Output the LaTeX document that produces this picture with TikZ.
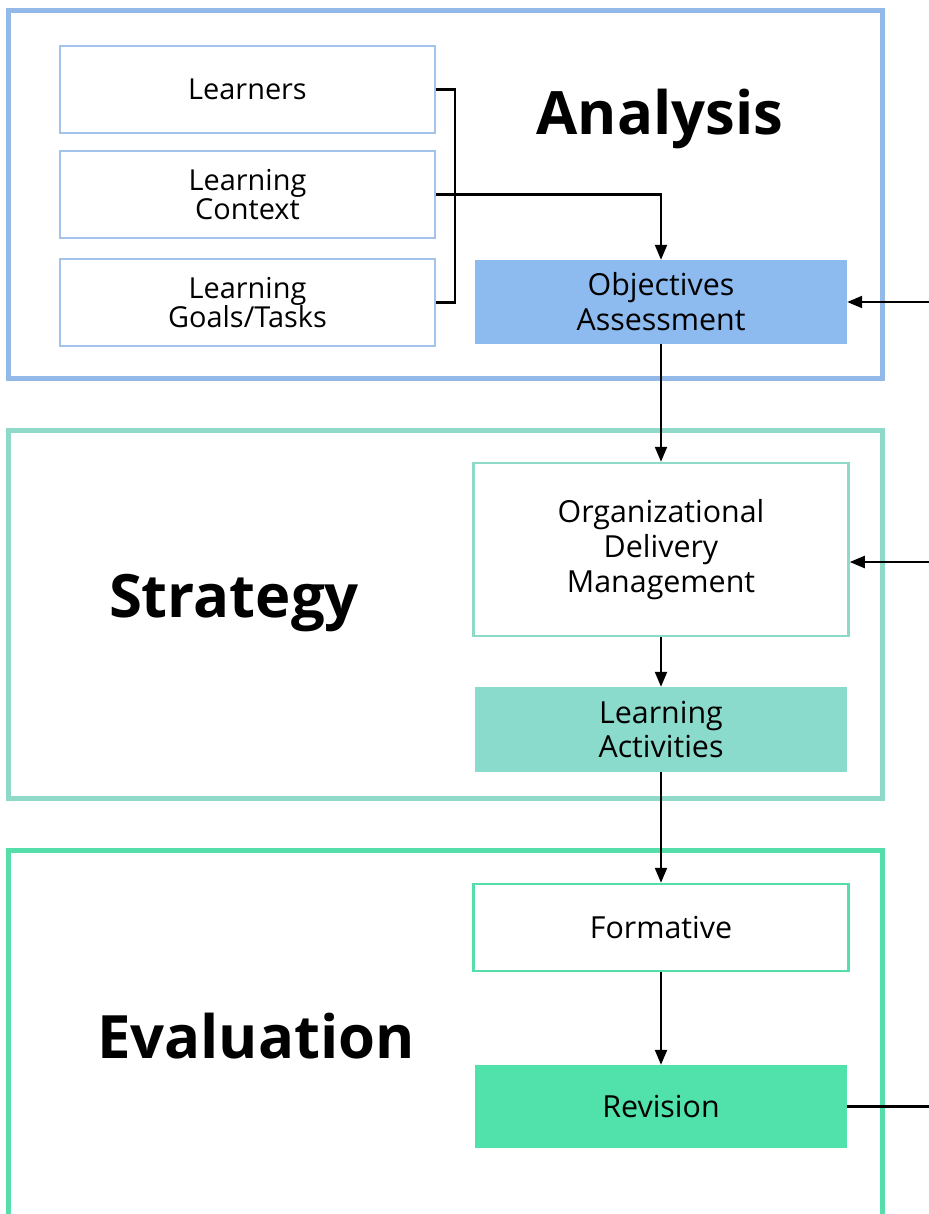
\documentclass[tikz,border=0pt]{standalone}
\usepackage{fontspec}
\setmainfont{Open Sans}
\usetikzlibrary{arrows.meta}
\definecolor{anaframe}{HTML}{93B9E8}
\definecolor{anabox}{HTML}{A3C3EC}
\definecolor{anafill}{HTML}{8DBAEF}
\definecolor{strframe}{HTML}{8FD9C9}
\definecolor{strfill}{HTML}{8ADBCB}
\definecolor{evaframe}{HTML}{55DEAA}
\definecolor{evafill}{HTML}{50E2AA}
\tikzset{
  frame/.style={draw=#1, line width=5bp, minimum width=873bp, inner sep=0pt},
  plainbox/.style={draw=#1, line width=2.5bp, fill=white, minimum width=375bp, minimum height=87bp, align=center, inner sep=0pt},
  fillbox/.style={fill=#1, minimum width=372bp, align=center, inner sep=0pt},
  lefttxt/.style={font=\fontsize{29}{30}\selectfont},
  righttxt/.style={font=\fontsize{30.5}{35}\selectfont},
  title/.style={font=\fontsize{60}{64}\selectfont\bfseries},
  conn/.style={line width=2.2bp, draw=black},
  arr/.style={conn, -{Triangle[length=15bp,width=12bp]}}
}
\begin{document}
\begin{tikzpicture}[x=1bp,y=-1bp]
\useasboundingbox (0,0) rectangle (929,1214);
\fill[white] (0,0) rectangle (929,1214);
% frames
\node[frame=anaframe, minimum height=368bp] (fa) at (445.5,194) {};
\node[frame=strframe, minimum height=368bp] (fs) at (445.5,614) {};
\node[frame=evaframe, minimum height=400bp] (fe) at (445.5,1050) {};
% titles
\node[title] (ta) at (660,119) {Analysis};
\node[title] (ts) at (234,603) {Strategy};
\node[title] (te) at (256,1036) {Evaluation};
% analysis boxes
\node[plainbox=anabox, lefttxt] (learners) at (247.5,89.5) {Learners};
\node[plainbox=anabox, lefttxt] (context) at (247.5,194.5) {Learning\\Context};
\node[plainbox=anabox, lefttxt] (goals) at (247.5,302.5) {Learning\\Goals/Tasks};
\node[fillbox=anafill, minimum height=84bp, righttxt] (obj) at (661,302) {Objectives\\Assessment};
% strategy boxes
\node[plainbox=strframe, minimum height=173bp, righttxt] (org) at (661,549.5) {Organizational\\Delivery\\Management};
\node[fillbox=strfill, minimum height=85bp, righttxt] (act) at (661,729.5) {Learning\\Activities};
% evaluation boxes
\node[plainbox=evaframe, righttxt] (form) at (661,927.5) {Formative};
\node[fillbox=evafill, minimum height=83bp, righttxt] (rev) at (661,1106.5) {Revision};
% edge coordinates
\coordinate (e1) at (929,302);
\coordinate (e2) at (929,562);
\coordinate (e3) at (929,1106.5);
% connectors
\draw[conn] (learners.east) -- ++(19,0) |- (goals.east);
\draw[arr] (context.east) -| (obj.north);
\draw[arr] (e1) -- (obj.east);
\draw[arr] (obj.south) -- (org.north);
\draw[arr] (e2) -- (org.east |- e2);
\draw[arr] (org.south) -- (act.north);
\draw[arr] (act.south) -- (form.north);
\draw[arr] (form.south) -- (rev.north);
\draw[conn] (rev.east) -- (e3);
\end{tikzpicture}
\end{document}
